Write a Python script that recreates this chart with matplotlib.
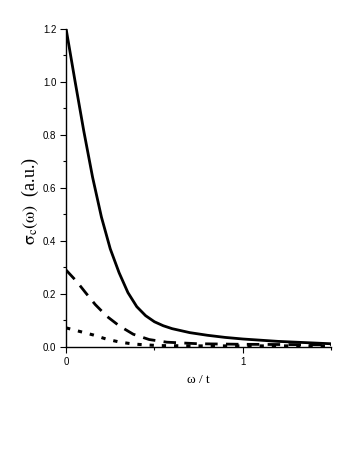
import matplotlib
matplotlib.use("Agg")
import matplotlib.pyplot as plt
from matplotlib.ticker import MultipleLocator, FixedLocator

plt.rcParams["mathtext.fontset"] = "stix"

# Data
w_solid = [0.0, 0.05, 0.10, 0.15, 0.20, 0.25, 0.30, 0.35, 0.40, 0.45, 0.50, 0.55, 0.60, 0.70, 0.80, 0.90, 1.0, 1.2, 1.4, 1.5]
s_solid = [1.2, 1.005, 0.815, 0.64, 0.49, 0.37, 0.28, 0.205, 0.152, 0.118, 0.095, 0.08, 0.069, 0.054, 0.044, 0.036, 0.030, 0.021, 0.015, 0.012]

w_dash = [0.0, 0.06, 0.11, 0.165, 0.23, 0.30, 0.38, 0.47, 0.57, 0.75, 1.0, 1.25, 1.5]
s_dash = [0.29, 0.247, 0.205, 0.16, 0.116, 0.08, 0.048, 0.028, 0.018, 0.012, 0.010, 0.009, 0.008]

w_dot = [0.0, 0.08, 0.155, 0.231, 0.307, 0.38, 0.458, 0.53, 0.75, 1.0, 1.25, 1.5]
s_dot = [0.072, 0.058, 0.045, 0.029, 0.018, 0.011, 0.0075, 0.005, 0.004, 0.004, 0.004, 0.004]

yticks = [0.0, 0.2, 0.4, 0.6, 0.8, 1.0, 1.2]
ytick_labels = ["0.0", "0.2", "0.4", "0.6", "0.8", "1.0", "1.2"]
xticks = [0, 1]
xtick_labels = ["0", "1"]

fig = plt.figure(figsize=(3.46, 4.5), dpi=100)
ax = fig.add_axes([0.191, 0.229, 0.766, 0.707])

ax.plot(w_solid, s_solid, color="black", lw=2.0, solid_joinstyle="round")
ax.plot(w_dash, s_dash, color="black", lw=2.0, dashes=(4.5, 3.0))
ax.plot(w_dot, s_dot, color="black", lw=2.2, dashes=(1.4, 2.6))

ax.set_xlim(0, 1.5)
ax.set_ylim(0, 1.2)

for side in ("top", "right"):
    ax.spines[side].set_visible(False)
for side in ("left", "bottom"):
    ax.spines[side].set_linewidth(1.0)

ax.yaxis.set_major_locator(FixedLocator(yticks))
ax.set_yticklabels(ytick_labels)
ax.yaxis.set_minor_locator(MultipleLocator(0.1))
ax.xaxis.set_major_locator(FixedLocator(xticks))
ax.set_xticklabels(xtick_labels)
ax.xaxis.set_minor_locator(FixedLocator([0.5, 1.5]))

ax.tick_params(which="major", direction="out", length=4, width=0.8, labelsize=7, pad=3)
ax.tick_params(which="minor", direction="out", length=2.5, width=0.8)
for lab in ax.get_xticklabels() + ax.get_yticklabels():
    lab.set_family("Liberation Sans")

ax.set_ylabel(r"$\mathrm{\sigma_c(\omega)}$  (a.u.)", fontsize=13, family="Liberation Serif")
ax.yaxis.set_label_coords(-0.095, 0.46)
ax.set_xlabel("ω / t", fontsize=9.5, family="Liberation Serif", labelpad=5)

fig.savefig("out.png", dpi=100)
